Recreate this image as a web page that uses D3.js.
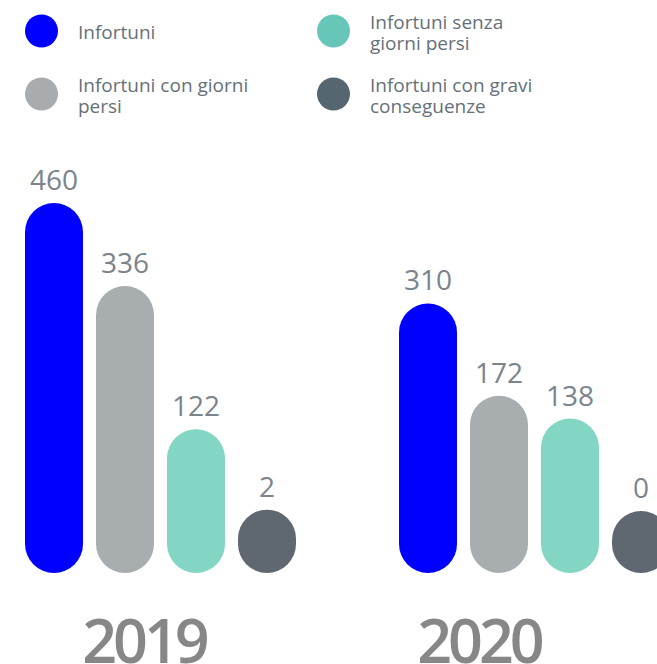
<!DOCTYPE html>
<html>
<head>
<meta charset="utf-8">
<script src="https://cdn.jsdelivr.net/npm/d3@7"></script>
<style>
  body { margin: 0; background: #fff; }
  svg { display: block; font-family: "Open Sans", sans-serif; }
</style>
</head>
<body>
<svg id="chart" width="657" height="664"></svg>
<script>
// data
var years = ["2019", "2020"];
var categories = ["Infortuni", "Infortuni con giorni persi", "Infortuni senza giorni persi", "Infortuni con gravi conseguenze"];
var values2019 = [460, 336, 122, 2];
var values2020 = [310, 172, 138, 0];
var barColors = ["#0000ff", "#a8adb0", "#84d6c4", "#5f6770"];
var legendColors = ["#0000ff", "#a8acaf", "#66c6b8", "#566670"];
// legend labels split into lines, same order as categories
var legendLines = [["Infortuni"], ["Infortuni con giorni", "persi"], ["Infortuni senza", "giorni persi"], ["Infortuni con gravi", "conseguenze"]];

var svg = d3.select("#chart");
var baseY = 573;

var x0 = d3.scaleBand().domain(years).range([25, 773]).padding(0);
var x1 = d3.scaleBand().domain(categories).range([0, 271]).paddingInner(0.183).paddingOuter(0);
// bars keep a minimum pill height, so the scale starts above zero
var h = d3.scaleLinear().domain([0, 460]).range([62, 370]);

var rows = [];
years.forEach(function(yr, i) {
    var vals = i === 0 ? values2019 : values2020;
    categories.forEach(function(c, j) {
        rows.push({ year: yr, cat: c, value: vals[j], color: barColors[j] });
    });
});

var groups = svg.selectAll(".group")
    .data(years)
    .enter().append("g")
    .attr("class", "group")
    .attr("transform", d => `translate(${x0(d)},0)`);

groups.selectAll("rect")
    .data(yr => rows.filter(r => r.year === yr))
    .enter().append("rect")
    .attr("x", d => x1(d.cat))
    .attr("y", d => baseY - h(d.value))
    .attr("width", x1.bandwidth())
    .attr("height", d => h(d.value))
    .attr("rx", x1.bandwidth() / 2)
    .attr("ry", x1.bandwidth() / 2)
    .style("fill", d => d.color);

groups.selectAll(".val")
    .data(yr => rows.filter(r => r.year === yr))
    .enter().append("text")
    .attr("class", "val")
    .attr("x", d => x1(d.cat) + x1.bandwidth() / 2)
    .attr("y", d => baseY - h(d.value) - 13)
    .attr("text-anchor", "middle")
    .style("font-size", "28px")
    .style("fill", "#7b848c")
    .text(d => d.value);

// year labels
var yearCenter = { "2019": 144, "2020": 479 };
svg.selectAll(".year")
    .data(years)
    .enter().append("text")
    .attr("class", "year")
    .attr("x", d => yearCenter[d])
    .attr("y", 663)
    .attr("text-anchor", "middle")
    .style("font-size", "61px")
    .style("font-weight", 600)
    .style("letter-spacing", "-4px")
    .style("fill", "#878787")
    .text(d => d);

// legend, 2 columns
var legend = svg.selectAll(".legend")
    .data(categories)
    .enter().append("g")
    .attr("class", "legend")
    .attr("transform", (d, i) => `translate(${i < 2 ? 41.5 : 333.5},${i % 2 === 0 ? 31 : 94})`);

legend.append("circle")
    .attr("r", 16.5)
    .style("fill", (d, i) => legendColors[i]);

legend.each(function(d, i) {
    var lines = legendLines[i];
    var t = d3.select(this).append("text")
        .attr("x", 36.5)
        .style("font-size", "19px")
        .style("fill", "#66707a");
    var start = lines.length === 1 ? 7.5 : -2.5;
    lines.forEach(function(l, k) {
        t.append("tspan").attr("x", 36.5).attr("y", start + k * 21).text(l);
    });
});
</script>
</body>
</html>
